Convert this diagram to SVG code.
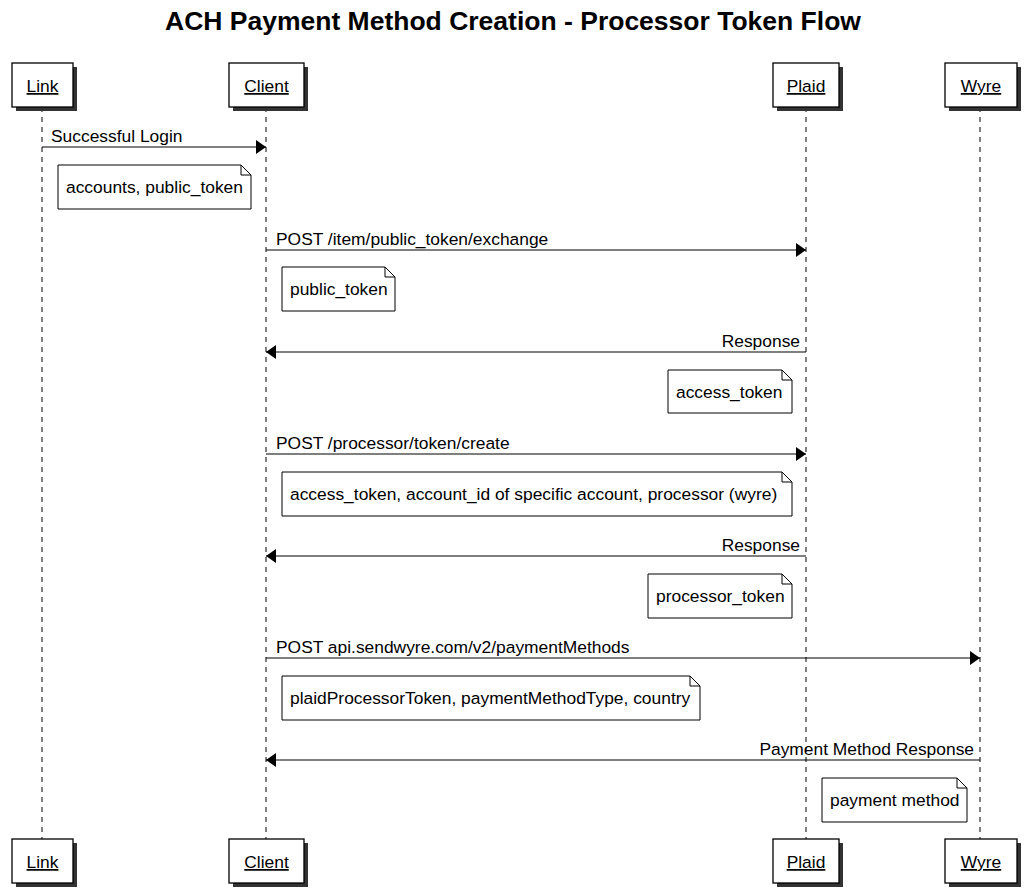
<svg xmlns="http://www.w3.org/2000/svg" width="1030" height="896" viewBox="0 0 1030 896">
<style>
text{font-family:"Liberation Sans",Arial,sans-serif;fill:#000}
.title{font-size:26.5px;font-weight:bold}
.msg{font-size:17.4px}
.pname{font-size:17.4px;text-decoration:underline}
.box{fill:#fff;stroke:#000;stroke-width:1.3}
.shadow{fill:#333}
.life{stroke:#000;stroke-width:1;stroke-dasharray:5,5;fill:none}
.arrow{stroke:#000;stroke-width:1.2;fill:none}
.note{fill:#fff;stroke:#000;stroke-width:1}
</style>
<defs>
<marker id="ah" viewBox="0 0 10 14" refX="10" refY="7" markerWidth="10" markerHeight="14" markerUnits="userSpaceOnUse" orient="auto">
<path d="M0,0 L10,7 L0,14 Z" fill="#000"/>
</marker>
</defs>
<rect width="1030" height="896" fill="#fff"/>
<text class="title" x="513" y="30" text-anchor="middle">ACH Payment Method Creation - Processor Token Flow</text>

<g id="lifelines">
<line class="life" x1="42" y1="107" x2="42" y2="839"/>
<line class="life" x1="266" y1="107" x2="266" y2="839"/>
<line class="life" x1="806" y1="107" x2="806" y2="839"/>
<line class="life" x1="980" y1="107" x2="980" y2="839"/>
</g>

<g id="link-top"><rect class="shadow" x="16" y="67" width="61" height="44"/><rect class="box" x="12" y="63" width="61" height="44"/><text class="pname" x="42.5" y="92" text-anchor="middle">Link</text></g>
<g id="client-top"><rect class="shadow" x="233" y="67" width="75" height="44"/><rect class="box" x="229" y="63" width="75" height="44"/><text class="pname" x="266.5" y="92" text-anchor="middle">Client</text></g>
<g id="plaid-top"><rect class="shadow" x="777" y="67" width="66" height="44"/><rect class="box" x="773" y="63" width="66" height="44"/><text class="pname" x="806" y="92" text-anchor="middle">Plaid</text></g>
<g id="wyre-top"><rect class="shadow" x="949" y="67" width="72" height="44"/><rect class="box" x="945" y="63" width="72" height="44"/><text class="pname" x="981" y="92" text-anchor="middle">Wyre</text></g>

<g id="link-bottom"><rect class="shadow" x="16" y="843" width="61" height="44"/><rect class="box" x="12" y="839" width="61" height="44"/><text class="pname" x="42.5" y="868" text-anchor="middle">Link</text></g>
<g id="client-bottom"><rect class="shadow" x="233" y="843" width="75" height="44"/><rect class="box" x="229" y="839" width="75" height="44"/><text class="pname" x="266.5" y="868" text-anchor="middle">Client</text></g>
<g id="plaid-bottom"><rect class="shadow" x="777" y="843" width="66" height="44"/><rect class="box" x="773" y="839" width="66" height="44"/><text class="pname" x="806" y="868" text-anchor="middle">Plaid</text></g>
<g id="wyre-bottom"><rect class="shadow" x="949" y="843" width="72" height="44"/><rect class="box" x="945" y="839" width="72" height="44"/><text class="pname" x="981" y="868" text-anchor="middle">Wyre</text></g>

<g id="connectors">
<line class="arrow" x1="42" y1="147" x2="266" y2="147" marker-end="url(#ah)"/>
<text class="msg" x="51" y="142">Successful Login</text>
<line class="arrow" x1="266" y1="250" x2="806" y2="250" marker-end="url(#ah)"/>
<text class="msg" x="276" y="245">POST /item/public_token/exchange</text>
<line class="arrow" x1="806" y1="352" x2="266" y2="352" marker-end="url(#ah)"/>
<text class="msg" x="800" y="347" text-anchor="end">Response</text>
<line class="arrow" x1="266" y1="454" x2="806" y2="454" marker-end="url(#ah)"/>
<text class="msg" x="276" y="449">POST /processor/token/create</text>
<line class="arrow" x1="806" y1="556" x2="266" y2="556" marker-end="url(#ah)"/>
<text class="msg" x="800" y="551" text-anchor="end">Response</text>
<line class="arrow" x1="266" y1="658" x2="980" y2="658" marker-end="url(#ah)"/>
<text class="msg" x="276" y="653">POST api.sendwyre.com/v2/paymentMethods</text>
<line class="arrow" x1="980" y1="760" x2="266" y2="760" marker-end="url(#ah)"/>
<text class="msg" x="974" y="755" text-anchor="end">Payment Method Response</text>
</g>

<g id="note1"><path class="note" d="M58,165 H241 L251,175 V209 H58 Z M241,165 V175 H251"/><text class="msg" x="66" y="193">accounts, public_token</text></g>
<g id="note2"><path class="note" d="M282,267 H385 L395,277 V311 H282 Z M385,267 V277 H395"/><text class="msg" x="290" y="295">public_token</text></g>
<g id="note3"><path class="note" d="M668,370 H782 L792,380 V413 H668 Z M782,370 V380 H792"/><text class="msg" x="676" y="398">access_token</text></g>
<g id="note4"><path class="note" d="M282,472 H782 L792,482 V516 H282 Z M782,472 V482 H792"/><text class="msg" x="290" y="500">access_token, account_id of specific account, processor (wyre)</text></g>
<g id="note5"><path class="note" d="M648,574 H782 L792,584 V618 H648 Z M782,574 V584 H792"/><text class="msg" x="656" y="602">processor_token</text></g>
<g id="note6"><path class="note" d="M282,676 H690 L700,686 V720 H282 Z M690,676 V686 H700"/><text class="msg" x="290" y="704">plaidProcessorToken, paymentMethodType, country</text></g>
<g id="note7"><path class="note" d="M822,778 H957 L967,788 V822 H822 Z M957,778 V788 H967"/><text class="msg" x="830" y="806">payment method</text></g>
</svg>
